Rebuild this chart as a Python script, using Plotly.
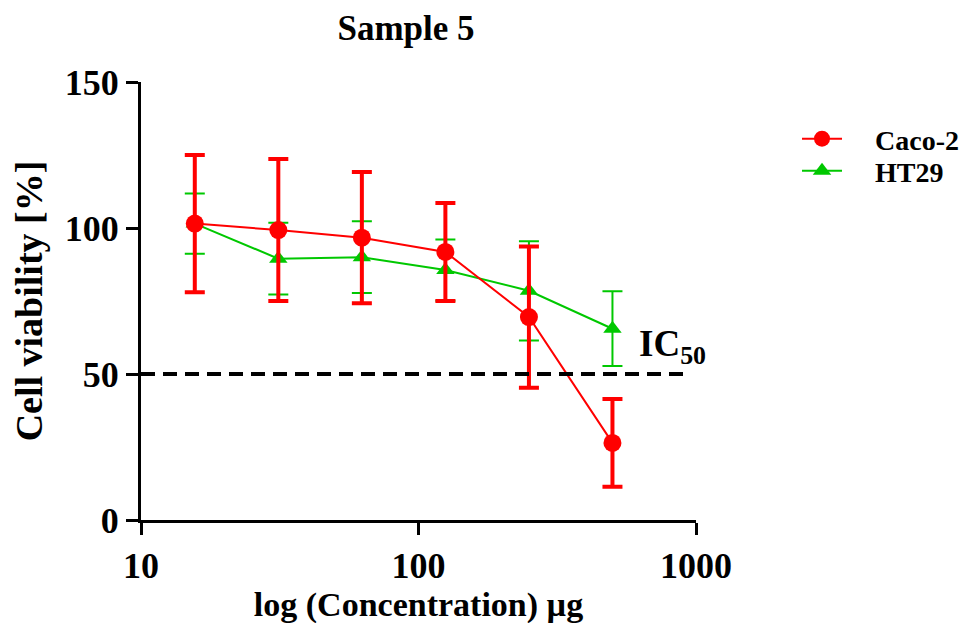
import plotly.graph_objects as go

# concentrations (µg) and mean viability (%) with SD
conc = [15.625, 31.25, 62.5, 125, 250, 500]
caco2_mean = [101.5, 99.3, 96.7, 91.8, 69.5, 26.4]
caco2_sd = [23.5, 24.3, 22.5, 16.8, 24.2, 15.0]
ht29_mean = [101.5, 89.5, 90.0, 85.6, 78.5, 65.5]
ht29_sd = [10.3, 12.3, 12.3, 10.5, 17.0, 12.8]
ic50_level = 50
x_ticks = [10, 100, 1000]
y_ticks = [0, 50, 100, 150]

FONT = "Liberation Serif, Times New Roman, serif"
RED = "#FF0000"
GREEN = "#00C800"
PAD = "\u00a0" * 4  # push legend text away from the symbol

fig = go.Figure()

# HT29 first so the red series sits on top
fig.add_trace(go.Scatter(
    x=conc, y=ht29_mean, name=PAD + "HT29", mode="lines+markers",
    line=dict(color=GREEN, width=2),
    marker=dict(symbol="triangle-up", size=16, color=GREEN),
    error_y=dict(type="data", array=ht29_sd, color=GREEN, thickness=2, width=10),
    legend="legend2",
))

fig.add_trace(go.Scatter(
    x=conc, y=caco2_mean, name=PAD + "Caco-2", mode="lines+markers",
    line=dict(color=RED, width=2),
    marker=dict(symbol="circle", size=18, color=RED),
    error_y=dict(type="data", array=caco2_sd, color=RED, thickness=4, width=10),
    legend="legend",
))

# IC50 reference line
fig.add_shape(type="line", xref="x", yref="y", x0=10, x1=950, y0=ic50_level, y1=ic50_level,
              line=dict(color="black", width=4, dash="14px,8px"))
fig.add_annotation(x=2.787, y=ic50_level, xref="x", yref="y",
                   text="IC<sub>50</sub>",
                   showarrow=False, xanchor="left", yanchor="bottom", yshift=2,
                   font=dict(family=FONT, size=37, color="black", weight="bold"))

legend_style = dict(xanchor="left", yanchor="middle", itemwidth=40,
                    font=dict(family=FONT, size=28, weight="bold"),
                    bgcolor="rgba(0,0,0,0)")

fig.update_layout(
    width=975, height=623,
    margin=dict(l=133, r=287, t=74, b=111, autoexpand=False),
    plot_bgcolor="white", paper_bgcolor="white",
    font=dict(family=FONT, color="black"),
    title=dict(text="Sample 5", x=398 / 975, xanchor="center",
               y=1 - 20 / 623, yanchor="middle",
               font=dict(family=FONT, size=35, weight="bold")),
    showlegend=True,
    legend=dict(x=1.182, y=1 - (139 - 82) / 438, **legend_style),
    legend2=dict(x=1.182, y=1 - (171 - 82) / 438, **legend_style),
)

fig.update_xaxes(
    type="log", range=[1, 3], tickvals=x_ticks, ticktext=[str(v) for v in x_ticks],
    showline=True, linecolor="black", linewidth=3, showgrid=False, zeroline=False,
    ticks="outside", ticklen=12, tickwidth=3, tickcolor="black",
    tickfont=dict(family=FONT, size=36, weight="bold"),
    title=dict(text="log (Concentration) µg", standoff=0,
               font=dict(family=FONT, size=34, weight="bold")),
)
fig.update_yaxes(
    range=[0, 150], tickvals=y_ticks,
    showline=True, linecolor="black", linewidth=3, showgrid=False, zeroline=False,
    ticks="outside", ticklen=12, tickwidth=3, tickcolor="black",
    tickfont=dict(family=FONT, size=36, weight="bold"),
    title=dict(text="Cell viability [%]", standoff=14,
               font=dict(family=FONT, size=38, weight="bold")),
)

fig.write_html("out.html")
